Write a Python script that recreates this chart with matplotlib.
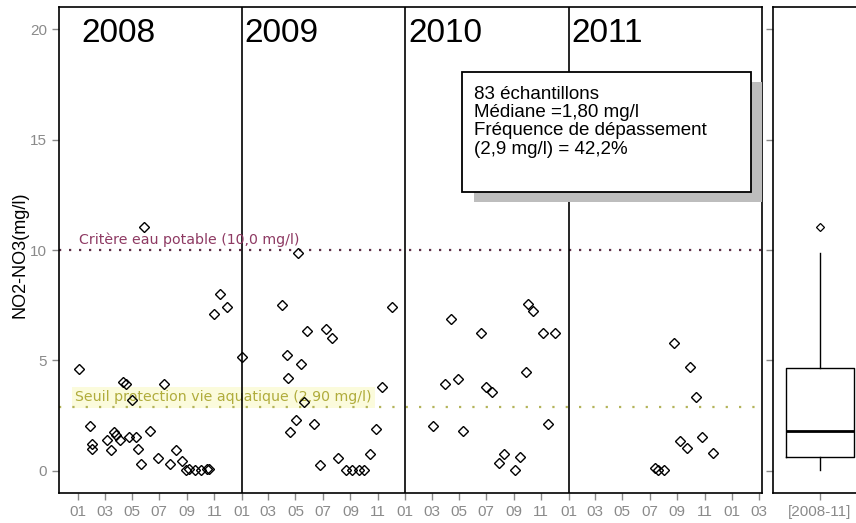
import matplotlib
matplotlib.use('Agg')
import matplotlib.pyplot as plt
import matplotlib.dates as mdates
from matplotlib.patches import Rectangle
import pandas as pd

# prélèvements NO2-NO3 (mg/l) par année
dates_2008 = ['2008-01-04', '2008-01-28', '2008-02-02', '2008-02-02', '2008-03-07',
              '2008-03-16', '2008-03-22', '2008-03-26', '2008-04-05', '2008-04-10',
              '2008-04-18', '2008-04-25', '2008-05-01', '2008-05-09', '2008-05-14',
              '2008-05-22', '2008-05-28', '2008-06-11', '2008-06-28', '2008-07-12',
              '2008-07-25', '2008-08-08', '2008-08-21', '2008-08-29', '2008-09-05',
              '2008-09-18', '2008-10-03', '2008-10-15', '2008-10-19', '2008-11-01',
              '2008-11-14', '2008-11-29']
no3_2008 = [4.63, 2.04, 1.21, 1.01, 1.42, 0.95, 1.75, 1.63, 1.39, 4.04,
            3.94, 1.55, 3.20, 1.55, 1.01, 0.33, 11.05, 1.82, 0.60, 3.95,
            0.33, 0.94, 0.47, 0.05, 0.10, 0.05, 0.05, 0.07, 0.07, 7.10,
            8.00, 7.44]

dates_2009 = ['2009-01-02', '2009-03-31', '2009-04-12', '2009-04-15', '2009-04-20',
              '2009-05-02', '2009-05-07', '2009-05-14', '2009-05-21', '2009-05-27',
              '2009-06-11', '2009-06-24', '2009-07-08', '2009-07-21', '2009-08-03',
              '2009-08-22', '2009-09-05', '2009-09-19', '2009-10-01', '2009-10-14',
              '2009-10-27', '2009-11-10', '2009-12-03']
no3_2009 = [5.14, 7.51, 5.25, 4.22, 1.75, 2.31, 9.85, 4.84, 3.14, 6.35,
            2.11, 0.26, 6.43, 6.00, 0.60, 0.03, 0.03, 0.03, 0.03, 0.77,
            1.90, 3.81, 7.44]

dates_2010 = ['2010-03-05', '2010-04-01', '2010-04-14', '2010-04-28', '2010-05-10',
              '2010-06-19', '2010-06-30', '2010-07-14', '2010-07-29', '2010-08-10',
              '2010-09-04', '2010-09-15', '2010-09-28', '2010-10-02', '2010-10-14',
              '2010-11-04', '2010-11-17', '2010-12-02']
no3_2010 = [2.04, 3.95, 6.89, 4.16, 1.82, 6.23, 3.81, 3.59, 0.38, 0.76,
            0.03, 0.65, 4.49, 7.54, 7.24, 6.23, 2.11, 6.23]

dates_2011 = ['2011-07-12', '2011-07-20', '2011-08-02', '2011-08-24', '2011-09-07',
              '2011-09-23', '2011-09-29', '2011-10-12', '2011-10-27', '2011-11-19']
no3_2011 = [0.12, 0.05, 0.05, 5.81, 1.37, 1.03, 4.72, 3.33, 1.55, 0.80]

years = [2008, 2009, 2010, 2011]

# seuils
seuil_potable = 10.0
label_potable = 'Critère eau potable (10,0 mg/l)'
seuil_aquatique = 2.90
label_aquatique = 'Seuil protection vie aquatique (2,90 mg/l)'

# résumé de la période
box_label = '[2008-11]'
box_q1, box_med, box_q3 = 0.65, 1.80, 4.67
box_low, box_high = 0.03, 9.85
box_fliers = [11.05]

info_lines = ['83 échantillons',
              'Médiane =1,80 mg/l',
              'Fréquence de dépassement',
              '(2,9 mg/l) = 42,2%']

all_dates = pd.to_datetime(dates_2008 + dates_2009 + dates_2010 + dates_2011)
all_no3 = no3_2008 + no3_2009 + no3_2010 + no3_2011

plt.rcParams['font.family'] = ['Liberation Sans', 'DejaVu Sans']
tick_grey = '#8a8a8a'

fig = plt.figure(figsize=(8.56, 5.23), dpi=100)
ax = fig.add_axes([59 / 856, 30 / 523, 703 / 856, 486 / 523])
bx = fig.add_axes([773 / 856, 30 / 523, 94 / 856, 486 / 523])

# --- séries temporelles ---
ax.plot(all_dates, all_no3, ls='none', marker='D', ms=5.5,
        mfc='none', mec='black', mew=1.0, zorder=4)

ax.set_xlim(pd.Timestamp('2007-11-20'), pd.Timestamp('2012-03-08'))
ax.set_ylim(-1, 21)
ax.set_yticks([0, 5, 10, 15, 20])
ax.xaxis.set_major_locator(mdates.MonthLocator(bymonth=[1, 3, 5, 7, 9, 11]))
ax.xaxis.set_major_formatter(mdates.DateFormatter('%m'))
ax.tick_params(colors=tick_grey, labelsize=11, length=5, width=1)
ax.set_ylabel('NO2-NO3(mg/l)', fontsize=13, color='black')
ax.yaxis.set_label_coords(-0.043, 0.49)

for sp in ax.spines.values():
    sp.set_linewidth(1.2)

for yr in years[1:]:
    ax.axvline(pd.Timestamp(f'{yr}-01-01'), color='black', lw=1.2, zorder=3)
for yr in years:
    ax.text(pd.Timestamp(f'{yr}-01-08'), 19.42, str(yr), fontsize=24,
            color='black', va='baseline', ha='left')

ax.axhline(seuil_potable, color='#5e2f47', lw=1.6, ls=(0, (1, 3.5)), zorder=2)
ax.text(pd.Timestamp('2008-01-04'), seuil_potable + 0.25, label_potable,
        fontsize=10.2, color='#8e3a63', family='DejaVu Sans', va='baseline')

ax.axhline(seuil_aquatique, color='#b4b45a', lw=1.6, ls=(0, (1, 5)), zorder=2)
ax.text(pd.Timestamp('2007-12-26'), seuil_aquatique + 0.25, label_aquatique,
        fontsize=10.2, color='#b0ac3c', family='DejaVu Sans', va='baseline',
        bbox=dict(facecolor='#fbfbdc', edgecolor='none', pad=2.5), zorder=1)

# encadré avec ombre
ax.add_patch(Rectangle((0.590, 0.599), 0.410, 0.247, transform=ax.transAxes,
                       facecolor='#bdbdbd', edgecolor='none', zorder=5))
ax.add_patch(Rectangle((0.573, 0.620), 0.412, 0.247, transform=ax.transAxes,
                       facecolor='white', edgecolor='black', lw=1.3, zorder=6))
ax.text(0.590, 0.838, '\n'.join(info_lines), transform=ax.transAxes,
        fontsize=13.5, va='top', ha='left', linespacing=1.1, zorder=7)

# --- boîte à moustaches ---
stats = [dict(med=box_med, q1=box_q1, q3=box_q3, whislo=box_low,
              whishi=box_high, fliers=box_fliers, label=box_label)]
bx.bxp(stats, positions=[1], widths=0.72, showcaps=False,
       boxprops=dict(color='black', lw=1.0),
       medianprops=dict(color='black', lw=2.0),
       whiskerprops=dict(color='black', lw=1.0),
       flierprops=dict(marker='D', ms=4, mfc='none', mec='black', mew=0.9))
bx.set_xlim(0.5, 1.5)
bx.set_ylim(-1, 21)
bx.set_yticks([0, 5, 10, 15, 20])
bx.set_yticklabels([])
bx.tick_params(colors=tick_grey, labelsize=11, length=5, width=1)
for sp in bx.spines.values():
    sp.set_linewidth(1.2)

fig.savefig('out.png', dpi=100, facecolor='white')
